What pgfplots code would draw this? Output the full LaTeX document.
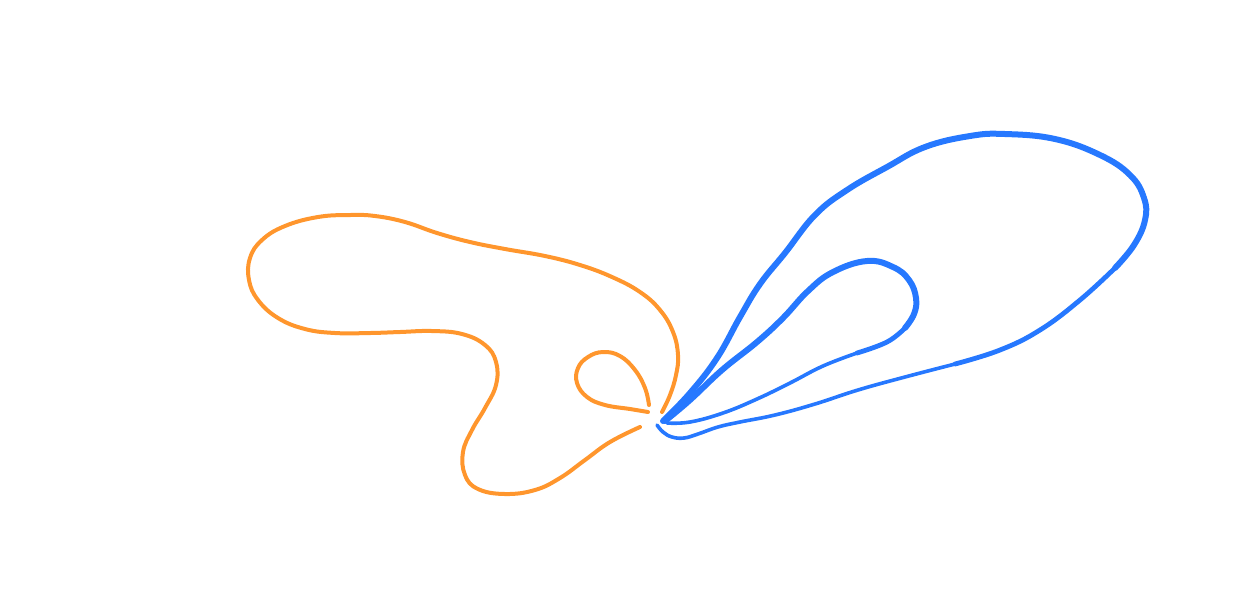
\documentclass[border=0pt]{standalone}
\usepackage{pgfplots}
\pgfplotsset{compat=1.18}
\definecolor{orangeA}{RGB}{255,150,45}
\definecolor{blueA}{RGB}{38,120,255}
\begin{document}
\begin{tikzpicture}
	\begin{axis}[
			width=621pt, height=295.5pt,
			scale only axis,
			xmin=0, xmax=1242,
			ymin=0, ymax=591,
			y dir=reverse,
			hide axis,
			clip=false,
			every axis plot/.append style={smooth, tension=0.7, no marks, line cap=round, line join=round},
		]
		\def\thin{1.8pt}
		\def\mid{2.4pt}
		\def\thick{3.0pt}

		% orange, big loop
		\addplot[draw=orangeA, line width=2.0pt] coordinates {
    (662,412) (670,395) (676,375) (678,355) (673,332) (660,310) (640,292)
    (612,277) (580,265) (545,256) (505,249) (470,242) (437,233) (405,222)
    (375,216) (350,215) (318,217) (285,226) (262,240) (250,258) (249,280)
    (258,300) (278,318) (305,329) (335,333) (370,333) (400,332) (432,331)
    (462,334) (485,345) (496,362) (496,385) (485,408) (472,430) (463,452)
    (465,475) (478,489) (505,494) (535,490) (560,478) (585,460) (610,442)
    (640,427)
		};
		% orange, small loop
		\addplot[draw=orangeA, line width=2.0pt] coordinates {
    (648,412) (630,409) (605,405) (587,397) (577,383) (578,368) (588,357)
    (603,352) (620,356) (635,370) (645,388) (649,405)
		};

		% blue, outer loop
		\addplot[draw=blueA, line width=\thick] coordinates {
    (663,421) (690,393) (717,358) (740,317) (760,284) (785,253) (815,215)
    (847,190) (887,167) (925,147) (970,136) (1005,134) (1055,139) (1100,155)
    (1130,175) (1144,198) (1145,220) (1134,245) (1115,268)
		};
		\addplot[draw=blueA, line width=\mid] coordinates {
    (1115,268) (1080,300) (1040,330) (1000,350) (955,364)
		};
		\addplot[draw=blueA, line width=\thin] coordinates {
    (955,364) (905,377) (858,390) (815,404) (775,415) (740,422) (718,427)
    (698,434) (684,438) (672,437) (663,432) (657,425)
		};

		% blue, inner loop
		\addplot[draw=blueA, line width=\thick] coordinates {
    (665,421) (690,400) (722,370) (757,342) (783,318) (808,291) (833,272)
    (867,261) (893,267) (909,280) (916,298) (914,314) (905,328)
		};
		\addplot[draw=blueA, line width=\mid] coordinates {
    (905,328) (887,342) (857,353)
		};
		\addplot[draw=blueA, line width=\thin] coordinates {
    (857,353) (823,366) (790,383) (757,399) (723,413) (690,422) (667,423)
		};
	\end{axis}
	\pgfresetboundingbox
	\path (current axis.south west) rectangle (current axis.north east);
\end{tikzpicture}
\end{document}
